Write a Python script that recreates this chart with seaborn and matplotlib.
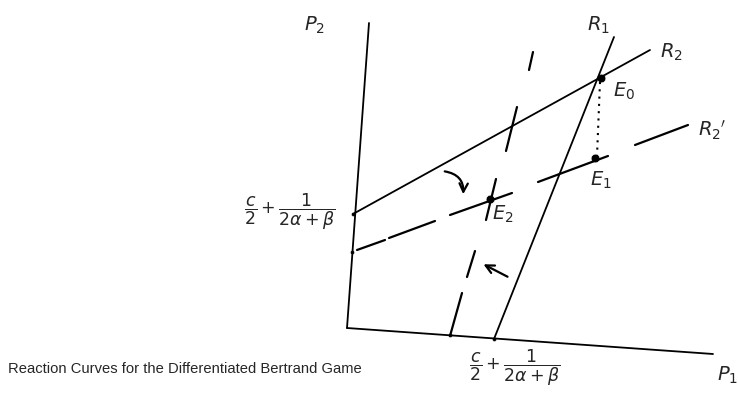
import pandas as pd
import matplotlib.pyplot as plt
import seaborn as sns
from matplotlib.patches import FancyArrowPatch

# sketch coordinates (drawing units, y grows downward)
p2_axis_x = [369, 347]
p2_axis_y = [23, 328]
p1_axis_x = [347, 713]
p1_axis_y = [328, 354]

r1_x = [494, 614]
r1_y = [339, 37]
r2_x = [353, 650]
r2_y = [214, 50]

# shifted R2' (broken line), one pair per piece
r2p_x = [(357, 385), (389, 435), (450, 512), (538, 608), (635, 688)]
r2p_y = [(250, 240), (238, 221), (215, 193), (182, 156), (145, 125)]

# shifted R1 (dashed)
r1p_x = [(533, 529), (517, 506), (496, 486), (475, 467), (462, 450)]
r1p_y = [(52, 70), (107, 151), (179, 220), (251, 277), (293, 336)]

drop_x = [600, 597]
drop_y = [82, 156]

eq_names = ["E0", "E1", "E2"]
eq_x = [601, 595, 490]
eq_y = [78, 158, 199]

tick_x = [353, 352, 450, 494]
tick_y = [214, 252, 335, 339]

intercept = r"$\dfrac{c}{2}+\dfrac{1}{2\alpha+\beta}$"
labels = [r"$P_2$", r"$R_1$", r"$R_2$", r"$E_0$", r"$R_2{}'$", r"$E_1$", r"$E_2$", r"$P_1$"]
label_x = [315, 598, 671, 624, 712, 601, 503, 728]
label_y = [25, 25, 52, 91, 130, 180, 214, 375]

title = "Reaction Curves for the Differentiated Bertrand Game"

sns.set_style("white")
fig = plt.figure(figsize=(7.38, 3.94), dpi=100)
ax = fig.add_axes([0, 0, 1, 1])

solid = pd.DataFrame({
    "x": p2_axis_x + p1_axis_x + r1_x + r2_x,
    "y": p2_axis_y + p1_axis_y + r1_y + r2_y,
    "seg": ["p2"] * 2 + ["p1"] * 2 + ["r1"] * 2 + ["r2"] * 2,
})
sns.lineplot(data=solid, x="x", y="y", units="seg", estimator=None, sort=False,
             color="black", lw=1.3, ax=ax, legend=False)

pieces = []
for name, xs, ys in [("r2p", r2p_x, r2p_y), ("r1p", r1p_x, r1p_y)]:
    for i, (px, py) in enumerate(zip(xs, ys)):
        pieces.append(pd.DataFrame({"x": px, "y": py, "seg": f"{name}{i}"}))
pieces = pd.concat(pieces)
sns.lineplot(data=pieces, x="x", y="y", units="seg", estimator=None, sort=False,
             color="black", lw=1.6, ax=ax, legend=False)

sns.lineplot(x=drop_x, y=drop_y, color="black", lw=1.5, linestyle=(0, (1, 2.5)),
             sort=False, estimator=None, ax=ax)

sns.scatterplot(x=eq_x, y=eq_y, color="black", s=40, ax=ax, legend=False)
sns.scatterplot(x=tick_x, y=tick_y, color="black", s=8, ax=ax, legend=False)

# arrows showing the shift
ax.add_patch(FancyArrowPatch((442, 171), (463, 197), connectionstyle="arc3,rad=-0.5",
                             arrowstyle="->,head_length=6,head_width=3", color="black", lw=1.6))
ax.add_patch(FancyArrowPatch((510, 278), (481, 263),
                             arrowstyle="->,head_length=6,head_width=3", color="black", lw=1.6))

for t, x, y in zip(labels, label_x, label_y):
    ax.text(x, y, t, fontsize=14, ha="center", va="center")

ax.text(290, 212, intercept, fontsize=12.5, ha="center", va="center")
ax.text(515, 368, intercept, fontsize=12.5, ha="center", va="center")

ax.text(8, 369, title, fontsize=10.6, family="Liberation Sans", ha="left", va="center")

ax.set_xlim(0, 738)
ax.set_ylim(394, 0)
ax.axis("off")

plt.savefig("out.png", dpi=100)
